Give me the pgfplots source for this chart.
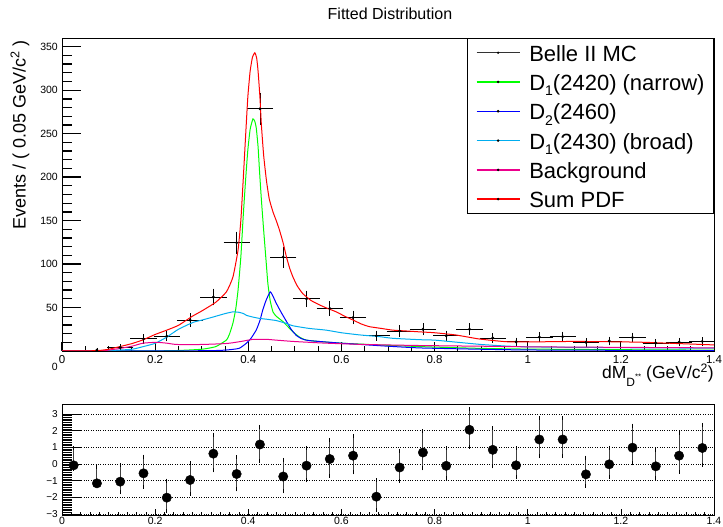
\documentclass[border=0pt]{standalone}
\usepackage{fontspec}
\setmainfont{Liberation Sans}
\usepackage{pgfplots}
\usepackage{pgfplotstable}
\pgfplotsset{compat=1.18}

\pgfplotstableread{
x y ex ey
0.075 1 0.025 1
0.125 4 0.025 2
0.175 14 0.025 3.7
0.225 17 0.025 4.1
0.275 35.5 0.025 6
0.325 62 0.025 7.9
0.375 124.5 0.025 11.2
0.425 278.5 0.025 16.7
0.475 108 0.025 10.4
0.525 60 0.025 7.7
0.575 49 0.025 7
0.625 38.5 0.025 6.2
0.675 17.5 0.025 4.2
0.725 23 0.025 4.8
0.775 25 0.025 5
0.825 17.5 0.025 4.2
0.875 25 0.025 5
0.925 15 0.025 3.9
0.975 10.5 0.025 3.2
1.025 16 0.025 4
1.075 16.5 0.025 4.1
1.125 10 0.025 3.2
1.175 11.5 0.025 3.4
1.225 15.5 0.025 3.9
1.275 9.2 0.025 3
1.325 10.3 0.025 3.2
1.375 11 0.025 3.3
}\datatab

\newcommand{\lsub}[1]{\raisebox{-5.5pt}{\fontsize{14}{14}\selectfont #1}}

\begin{document}
\begin{tikzpicture}[x=1pt,y=1pt]
\useasboundingbox (0,0) rectangle (723,527);

% --- top panel: y ticks (long ROOT-style ticks) ---
\begin{axis}[
  at={(62pt,176pt)}, anchor=south west,
  scale only axis, width=652pt, height=313pt,
  xmin=0, xmax=1.4, ymin=0, ymax=360,
  hide x axis, axis y line*=left,
  axis line style={line width=0.8pt, -},
  tick align=inside, ytick pos=left,
  ytick={0,50,100,150,200,250,300,350},
  yticklabels={\smash{\raisebox{-20pt}{0}}\hspace{7pt},50,100,150,200,250,300,350},
  minor y tick num=4,
  major tick length=19pt, minor tick length=9.5pt,
  ytick style={line width=1.3pt,black},
  yticklabel style={font=\fontsize{10.5}{12}\selectfont, inner sep=0pt},
  yticklabel shift=4pt,
]
\end{axis}

% --- top panel: main ---
\begin{axis}[
  at={(62pt,176pt)}, anchor=south west,
  scale only axis, width=652pt, height=313pt,
  xmin=0, xmax=1.4, ymin=0, ymax=360,
  axis line style={line width=0.8pt},
  tick align=inside, xtick pos=bottom, ytick=\empty,
  xtick={0,0.2,0.4,0.6,0.8,1.0,1.2,1.4},
  xticklabels={0,0.2,0.4,0.6,0.8,1,1.2,1.4},
  minor x tick num=3,
  major tick length=9pt, minor tick length=4.5pt,
  xtick style={line width=1pt,black},
  xticklabel style={font=\fontsize{11.5}{13}\selectfont, inner sep=0pt},
  xticklabel shift=4pt,
  title={Fitted Distribution},
  title style={font=\fontsize{16}{18}\selectfont, at={(axis description cs:0.503,1)}, anchor=center, yshift=18pt},
  ylabel={Events / ( 0.05 GeV/c\textsuperscript{2} )},
  ylabel style={font=\fontsize{18}{20}\selectfont, at={(axis description cs:-0.0644,0.994)}, anchor=east, inner sep=0pt},
  xlabel={dM\raisebox{-8pt}{\fontsize{12}{12}\selectfont D\raisebox{7pt}{\fontsize{8}{8}\selectfont **}} (GeV/c\textsuperscript{2})},
  xlabel style={font=\fontsize{17.5}{20}\selectfont, at={(axis description cs:1,0)}, anchor=base east, yshift=-28pt, inner sep=0pt},
  legend cell align=left,
  legend style={at={(1,1)}, anchor=north east, draw=black, line width=0.8pt, fill=white,
    font=\fontsize{22}{26}\selectfont, inner xsep=9pt, inner ysep=2pt, row sep=4.8pt,
    nodes={inner sep=0pt, text height=20.7pt, text depth=3.8pt},
    /tikz/every odd column/.append style={column sep=9pt}},
]
\addplot[black, line width=0.8pt, mark=*, mark size=1pt, only marks,
  legend image code/.code={\draw[black!80,line width=1.4pt] (0pt,0pt) -- (43pt,0pt); \fill[black] (21.5pt,0pt) circle (0.7pt);},
  error bars/.cd, x dir=both, y dir=both, x explicit, y explicit,
  error bar style={line width=0.8pt, black},
  error mark options={mark size=1.5pt, line width=0.8pt, black}]
  table[x=x, y=y, x error=ex, y error=ey] {\datatab};
\addlegendentry{Belle II MC}

\addplot[green, line width=1pt, smooth, tension=0.3,
  legend image code/.code={\draw[green,line width=1.4pt] (0pt,0pt) -- (43pt,0pt); \fill[black] (21.5pt,0pt) circle (0.7pt);}]
  coordinates {(0,0) (0.2,0.2) (0.25,0.6) (0.30,2) (0.33,5) (0.353,12.6) (0.36,20) (0.367,32) (0.373,48) (0.378,70) (0.384,108) (0.389,154) (0.394,195) (0.399,231) (0.404,255) (0.41,267) (0.414,264) (0.417,257) (0.421,235) (0.424,208) (0.428,175) (0.433,139) (0.438,105) (0.442,78) (0.447,58) (0.453,45) (0.46,40) (0.474,34) (0.485,28) (0.496,22) (0.51,16) (0.524,12.6) (0.55,11) (0.6,9) (0.7,6.5) (0.8,4.5) (0.9,3) (1.0,2.2) (1.2,1.5) (1.4,1)};
\addlegendentry{D\lsub{1}(2420) (narrow)}

\addplot[blue, line width=1pt, smooth, tension=0.3,
  legend image code/.code={\draw[blue,line width=1.4pt] (0pt,0pt) -- (43pt,0pt); \fill[black] (21.5pt,0pt) circle (0.7pt);}]
  coordinates {(0,0) (0.3,0.3) (0.35,1) (0.38,3) (0.396,9) (0.405,14) (0.417,24) (0.425,35) (0.431,47) (0.438,58) (0.447,68) (0.453,63) (0.46,55) (0.47,45) (0.482,34) (0.492,25) (0.503,18) (0.515,14) (0.53,12) (0.6,9) (0.7,5.5) (0.77,3.5) (0.9,2) (1.0,1.2) (1.2,0.8) (1.4,0.5)};
\addlegendentry{D\lsub{2}(2460)}

\addplot[cyan, line width=1pt, smooth, tension=0.3,
  legend image code/.code={\draw[cyan,line width=1.4pt] (0pt,0pt) -- (43pt,0pt); \fill[black] (21.5pt,0pt) circle (0.7pt);}]
  coordinates {(0,0) (0.10,0.5) (0.15,2) (0.174,5) (0.20,8.8) (0.225,16) (0.25,25) (0.282,33) (0.30,35.5) (0.324,39) (0.35,43) (0.367,45) (0.38,44.5) (0.39,43) (0.396,41) (0.41,39) (0.424,37.5) (0.44,36.5) (0.46,35) (0.48,32) (0.496,29) (0.53,26) (0.567,24) (0.6,21) (0.639,18.5) (0.682,16.5) (0.71,14.6) (0.768,13) (0.8,12.5) (0.85,10) (0.9,7.5) (0.953,5.7) (1.0,4.8) (1.1,4.2) (1.2,3.8) (1.3,3.5) (1.4,3.3)};
\addlegendentry{D\lsub{1}(2430) (broad)}

\addplot[magenta, line width=1pt, smooth, tension=0.3,
  legend image code/.code={\draw[magenta,line width=1.4pt] (0pt,0pt) -- (43pt,0pt); \fill[black] (21.5pt,0pt) circle (0.7pt);}]
  coordinates {(0,0) (0.08,0.2) (0.10,1) (0.125,3) (0.15,5.5) (0.174,9) (0.203,10) (0.225,9) (0.246,7.5) (0.30,7.5) (0.35,8.5) (0.367,9.5) (0.39,11.5) (0.41,13.4) (0.439,13.4) (0.46,12.5) (0.496,11) (0.567,9) (0.65,7.5) (0.768,6.3) (0.9,5.5) (1.0,4.8) (1.2,4.2) (1.4,3.6)};
\addlegendentry{Background}

\addplot[red, line width=1pt, smooth, tension=0.3,
  legend image code/.code={\draw[red,line width=1.4pt] (0pt,0pt) -- (43pt,0pt); \fill[black] (21.5pt,0pt) circle (0.7pt);}]
  coordinates {(0.00,0) (0.05,0.1) (0.08,0.6) (0.10,2) (0.124,5) (0.15,8.5) (0.174,12.8) (0.20,19) (0.225,24) (0.25,29.5) (0.28,40) (0.30,46) (0.33,56) (0.353,68) (0.367,85) (0.378,116) (0.384,150) (0.389,196) (0.394,245) (0.399,292) (0.404,322) (0.409,338) (0.414,343) (0.418,337) (0.421,322) (0.425,292) (0.428,261) (0.433,225) (0.439,196) (0.445,175) (0.453,160) (0.46,150) (0.467,139) (0.475,124) (0.482,108) (0.489,95) (0.496,85) (0.505,75) (0.517,66) (0.535,58) (0.553,53) (0.57,49) (0.589,45) (0.607,40) (0.625,35.6) (0.643,31) (0.66,28) (0.685,26) (0.71,24) (0.74,23) (0.768,22) (0.80,21) (0.846,18.4) (0.896,13.8) (0.953,10.7) (1.0,10.4) (1.1,11) (1.2,10.5) (1.25,10) (1.3,9) (1.35,8) (1.4,7)};
\addlegendentry{Sum PDF}
\end{axis}

% --- bottom panel: y ticks and grid ---
\begin{axis}[
  at={(62pt,12pt)}, anchor=south west,
  scale only axis, width=652pt, height=111pt,
  xmin=0, xmax=1.4, ymin=-3.06, ymax=3.6,
  hide x axis, axis y line*=left,
  axis line style={line width=0.8pt, -},
  tick align=inside, ytick pos=left,
  ytick={-3,-2,-1,0,1,2,3},
  yticklabels={−3,−2,−1,0,1,2,3},
  minor y tick num=9,
  major tick length=20pt, minor tick length=10pt,
  ytick style={line width=0.8pt,black},
  yticklabel style={font=\fontsize{10}{12}\selectfont, inner sep=0pt},
  yticklabel shift=4pt,
  ymajorgrids, major grid style={dotted, black, line width=0.8pt},
]
\end{axis}

% --- bottom panel: main ---
\begin{axis}[
  at={(62pt,12pt)}, anchor=south west,
  scale only axis, width=652pt, height=111pt,
  xmin=0, xmax=1.4, ymin=-3.06, ymax=3.6,
  axis line style={line width=0.8pt},
  tick align=inside, xtick pos=bottom, ytick=\empty,
  xtick={0,0.2,0.4,0.6,0.8,1.0,1.2,1.4},
  xticklabels={0,0.2,0.4,0.6,0.8,1,1.2,1.4},
  minor x tick num=9,
  major tick length=6pt, minor tick length=3pt,
  xtick style={line width=0.6pt,black},
  xticklabel style={font=\fontsize{10.5}{12}\selectfont, inner sep=0pt},
  xticklabel shift=2pt,
]
\addplot[black, only marks, mark=*, mark size=4.7pt,
  error bars/.cd, y dir=both, y explicit,
  error bar style={line width=1pt, black!75},
  error mark options={mark size=2pt, line width=1pt, black}]
  coordinates {
(0.025,-0.08) += (0,1.02) -= (0,0.2)
(0.075,-1.16) += (0,1.0) -= (0,0.1)
(0.125,-1.06) += (0,0.98) -= (0,0.64)
(0.175,-0.56) += (0,1.0) -= (0,0.8)
(0.225,-2.02) += (0,1.02) -= (0,0.8)
(0.275,-0.96) += (0,1.0) -= (0,0.82)
(0.325,0.62) += (0,1.14) -= (0,1.0)
(0.375,-0.6) += (0,1.0) -= (0,0.92)
(0.425,1.17) += (0,1.06) -= (0,1.0)
(0.475,-0.75) += (0,1.0) -= (0,0.9)
(0.525,-0.1) += (0,1.06) -= (0,0.88)
(0.575,0.3) += (0,1.14) -= (0,1.0)
(0.625,0.5) += (0,1.18) -= (0,1.0)
(0.675,-1.96) += (0,0.98) -= (0,0.78)
(0.725,-0.21) += (0,1.0) -= (0,0.82)
(0.775,0.69) += (0,1.28) -= (0,0.96)
(0.825,-0.11) += (0,1.04) -= (0,0.76)
(0.875,2.05) += (0,1.22) -= (0,1.02)
(0.925,0.85) += (0,1.28) -= (0,1.0)
(0.975,-0.08) += (0,1.02) -= (0,0.72)
(1.025,1.47) += (0,1.3) -= (0,1.02)
(1.075,1.47) += (0,1.28) -= (0,1.0)
(1.125,-0.62) += (0,1.0) -= (0,0.7)
(1.175,-0.02) += (0,1.0) -= (0,0.76)
(1.225,0.98) += (0,1.32) -= (0,0.94)
(1.275,-0.14) += (0,0.98) -= (0,0.72)
(1.325,0.5) += (0,1.38) -= (0,0.98)
(1.375,0.96) += (0,1.38) -= (0,1.02)
  };
\end{axis}
\end{tikzpicture}
\end{document}
